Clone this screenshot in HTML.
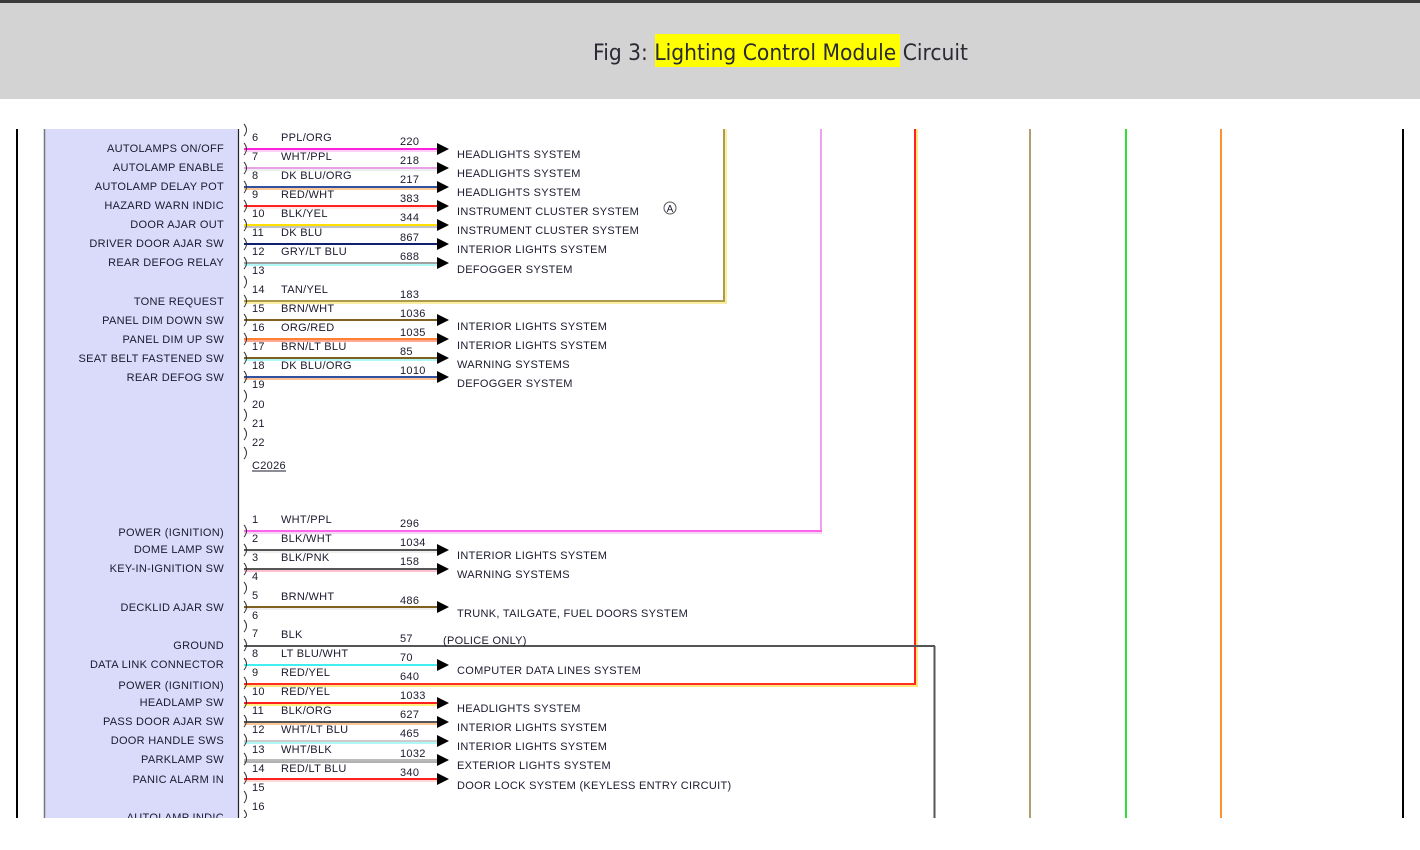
<!DOCTYPE html>
<html><head><meta charset="utf-8"><style>
html,body{margin:0;padding:0;background:#fff;width:1420px;height:850px;overflow:hidden}
svg{display:block}
text{font-family:"Liberation Sans",Arial,sans-serif;font-size:11px;fill:#1a1a2e}
.t{font-size:11px;letter-spacing:0.3px}
</style></head><body>
<svg width="1420" height="850" viewBox="0 0 1420 850" xmlns="http://www.w3.org/2000/svg">
<rect x="0" y="0" width="1420" height="99" fill="#d3d3d3"/>
<rect x="0" y="0" width="1420" height="3" fill="#3a3a3a"/>
<rect x="655" y="34" width="245" height="33" fill="#ffff00"/>
<text x="593" y="60" textLength="375" lengthAdjust="spacingAndGlyphs" style="font-family:'DejaVu Sans','Liberation Sans',sans-serif;font-size:22px;fill:#2a2a35">Fig 3: Lighting Control Module Circuit</text>

<g>
<rect x="44" y="129" width="194" height="689" fill="#dadafa"/>
<line x1="44.5" y1="129" x2="44.5" y2="818" stroke="#777" stroke-width="1.5"/>
<line x1="238.5" y1="129" x2="238.5" y2="818" stroke="#222" stroke-width="1.2"/>
<rect x="16" y="129" width="2" height="689" fill="#000"/>
<rect x="1402" y="129" width="2" height="689" fill="#000"/>

<!-- vertical lines -->
<line x1="724" y1="129" x2="724" y2="301" stroke="#b09a50" stroke-width="2"/>
<line x1="726" y1="129" x2="726" y2="303" stroke="#f0e040" stroke-width="1"/>
<line x1="821" y1="129" x2="821" y2="532" stroke="#f0a0f0" stroke-width="2"/>
<line x1="915" y1="129" x2="915" y2="685" stroke="#ff2020" stroke-width="2"/>
<line x1="917" y1="129" x2="917" y2="686" stroke="#ffd000" stroke-width="1"/>
<line x1="934.5" y1="646" x2="934.5" y2="818" stroke="#555" stroke-width="2"/>
<line x1="1030" y1="129" x2="1030" y2="818" stroke="#b0a070" stroke-width="2"/>
<line x1="1126" y1="129" x2="1126" y2="818" stroke="#30e030" stroke-width="2"/>
<line x1="1221" y1="129" x2="1221" y2="818" stroke="#ff9030" stroke-width="2"/>

<!-- horizontal long wires -->
<line x1="244" y1="301" x2="725" y2="301" stroke="#b09a50" stroke-width="2"/>
<line x1="244" y1="303" x2="727" y2="303" stroke="#f0e040" stroke-width="1"/>
<line x1="244" y1="531" x2="822" y2="531" stroke="#ff66ee" stroke-width="2"/>
<line x1="244" y1="533" x2="822" y2="533" stroke="#e8b0e8" stroke-width="1"/>
<line x1="244" y1="646" x2="935" y2="646" stroke="#555" stroke-width="2"/>
<line x1="244" y1="684" x2="916" y2="684" stroke="#ff3020" stroke-width="2"/>
<line x1="244" y1="686" x2="918" y2="686" stroke="#ffd000" stroke-width="1"/>

<!-- short wires with arrows -->
<g stroke-width="2">
<line x1="244" y1="149" x2="440" y2="149" stroke="#ff22dd"/><line x1="244" y1="151" x2="440" y2="151" stroke="#ffa0f0" stroke-width="1"/>
<line x1="244" y1="168" x2="440" y2="168" stroke="#e8a0e8"/><line x1="244" y1="170" x2="440" y2="170" stroke="#ddd" stroke-width="1"/>
<line x1="244" y1="187" x2="440" y2="187" stroke="#3050a0"/><line x1="244" y1="189" x2="440" y2="189" stroke="#ff9030" stroke-width="1"/>
<line x1="244" y1="206" x2="440" y2="206" stroke="#ff2020"/><line x1="244" y1="208" x2="440" y2="208" stroke="#ffd0d0" stroke-width="1"/>
<line x1="244" y1="225" x2="440" y2="225" stroke="#ffe000"/><line x1="244" y1="227" x2="440" y2="227" stroke="#888" stroke-width="1"/>
<line x1="244" y1="244" x2="440" y2="244" stroke="#102070"/>
<line x1="244" y1="263" x2="440" y2="263" stroke="#a0a0a0"/><line x1="244" y1="265" x2="440" y2="265" stroke="#60f0f0" stroke-width="1"/>
<line x1="244" y1="320" x2="440" y2="320" stroke="#806020"/>
<line x1="244" y1="339" x2="440" y2="339" stroke="#ff8030"/><line x1="244" y1="341" x2="440" y2="341" stroke="#ff5030" stroke-width="1"/>
<line x1="244" y1="358" x2="440" y2="358" stroke="#806020"/><line x1="244" y1="360" x2="440" y2="360" stroke="#60f0f0" stroke-width="1"/>
<line x1="244" y1="377" x2="440" y2="377" stroke="#3050a0"/><line x1="244" y1="379" x2="440" y2="379" stroke="#ff8030" stroke-width="1"/>
<line x1="244" y1="550" x2="440" y2="550" stroke="#555"/><line x1="244" y1="552" x2="440" y2="552" stroke="#ddd" stroke-width="1"/>
<line x1="244" y1="569" x2="440" y2="569" stroke="#555"/><line x1="244" y1="571" x2="440" y2="571" stroke="#ff80a0" stroke-width="1"/>
<line x1="244" y1="607" x2="440" y2="607" stroke="#806020"/><line x1="244" y1="609" x2="440" y2="609" stroke="#ddd" stroke-width="1"/>
<line x1="244" y1="665" x2="440" y2="665" stroke="#40f0f0"/>
<line x1="244" y1="703" x2="440" y2="703" stroke="#ff2020"/><line x1="244" y1="705" x2="440" y2="705" stroke="#ffe000" stroke-width="1"/>
<line x1="244" y1="722" x2="440" y2="722" stroke="#555"/><line x1="244" y1="724" x2="440" y2="724" stroke="#ff9030" stroke-width="1"/>
<line x1="244" y1="741" x2="440" y2="741" stroke="#ccc"/><line x1="244" y1="743" x2="440" y2="743" stroke="#60f0f0" stroke-width="1"/>
<line x1="244" y1="760" x2="440" y2="760" stroke="#bbb"/><line x1="244" y1="762" x2="440" y2="762" stroke="#666" stroke-width="1"/>
<line x1="244" y1="779" x2="440" y2="779" stroke="#ff2020"/><line x1="244" y1="781" x2="440" y2="781" stroke="#ffb0b0" stroke-width="1"/>
</g>
<g fill="#000">
<path d="M437 143L449 149L437 155Z"/><path d="M437 162L449 168L437 174Z"/><path d="M437 181L449 187L437 193Z"/>
<path d="M437 200L449 206L437 212Z"/><path d="M437 219L449 225L437 231Z"/><path d="M437 238L449 244L437 250Z"/>
<path d="M437 257L449 263L437 269Z"/><path d="M437 314L449 320L437 326Z"/><path d="M437 333L449 339L437 345Z"/>
<path d="M437 352L449 358L437 364Z"/><path d="M437 371L449 377L437 383Z"/>
<path d="M437 544L449 550L437 556Z"/><path d="M437 563L449 569L437 575Z"/><path d="M437 601L449 607L437 613Z"/>
<path d="M437 659L449 665L437 671Z"/><path d="M437 697L449 703L437 709Z"/><path d="M437 716L449 722L437 728Z"/>
<path d="M437 735L449 741L437 747Z"/><path d="M437 754L449 760L437 766Z"/><path d="M437 773L449 779L437 785Z"/>
</g>

<!-- brackets -->
<g fill="none" stroke="#333" stroke-width="1">
<path d="M244 124q5 6 0 12"/><path d="M244 143q5 6 0 12"/><path d="M244 162q5 6 0 12"/><path d="M244 181q5 6 0 12"/><path d="M244 200q5 6 0 12"/><path d="M244 219q5 6 0 12"/><path d="M244 238q5 6 0 12"/><path d="M244 257q5 6 0 12"/><path d="M244 276q5 6 0 12"/><path d="M244 295q5 6 0 12"/><path d="M244 314q5 6 0 12"/><path d="M244 333q5 6 0 12"/><path d="M244 352q5 6 0 12"/><path d="M244 371q5 6 0 12"/><path d="M244 390q5 6 0 12"/><path d="M244 409q5 6 0 12"/><path d="M244 428q5 6 0 12"/><path d="M244 447q5 6 0 12"/>
<path d="M244 525q5 6 0 12"/><path d="M244 544q5 6 0 12"/><path d="M244 563q5 6 0 12"/><path d="M244 582q5 6 0 12"/><path d="M244 601q5 6 0 12"/><path d="M244 620q5 6 0 12"/><path d="M244 639q5 6 0 12"/><path d="M244 658q5 6 0 12"/><path d="M244 677q5 6 0 12"/><path d="M244 696q5 6 0 12"/><path d="M244 715q5 6 0 12"/><path d="M244 734q5 6 0 12"/><path d="M244 753q5 6 0 12"/><path d="M244 772q5 6 0 12"/><path d="M244 791q5 6 0 12"/><path d="M244 810q5 6 0 8"/>
</g>

<!-- left labels -->
<g text-anchor="end" class="t">
<text x="224" y="152">AUTOLAMPS ON/OFF</text><text x="224" y="171">AUTOLAMP ENABLE</text><text x="224" y="190">AUTOLAMP DELAY POT</text>
<text x="224" y="209">HAZARD WARN INDIC</text><text x="224" y="228">DOOR AJAR OUT</text><text x="224" y="247">DRIVER DOOR AJAR SW</text>
<text x="224" y="266">REAR DEFOG RELAY</text><text x="224" y="305">TONE REQUEST</text><text x="224" y="324">PANEL DIM DOWN SW</text>
<text x="224" y="343">PANEL DIM UP SW</text><text x="224" y="362">SEAT BELT FASTENED SW</text><text x="224" y="381">REAR DEFOG SW</text>
<text x="224" y="536">POWER (IGNITION)</text><text x="224" y="553">DOME LAMP SW</text><text x="224" y="572">KEY-IN-IGNITION SW</text>
<text x="224" y="611">DECKLID AJAR SW</text><text x="224" y="649">GROUND</text><text x="224" y="668">DATA LINK CONNECTOR</text>
<text x="224" y="689">POWER (IGNITION)</text><text x="224" y="706">HEADLAMP SW</text><text x="224" y="725">PASS DOOR AJAR SW</text>
<text x="224" y="744">DOOR HANDLE SWS</text><text x="224" y="763">PARKLAMP SW</text><text x="224" y="783">PANIC ALARM IN</text>
<text x="224" y="821">AUTOLAMP INDIC</text>
</g>

<!-- pin numbers / colors / circuit numbers -->
<g class="t">
<text x="252" y="141">6</text><text x="281" y="141">PPL/ORG</text><text x="400" y="145">220</text>
<text x="252" y="160">7</text><text x="281" y="160">WHT/PPL</text><text x="400" y="164">218</text>
<text x="252" y="179">8</text><text x="281" y="179">DK BLU/ORG</text><text x="400" y="183">217</text>
<text x="252" y="198">9</text><text x="281" y="198">RED/WHT</text><text x="400" y="202">383</text>
<text x="252" y="217">10</text><text x="281" y="217">BLK/YEL</text><text x="400" y="221">344</text>
<text x="252" y="236">11</text><text x="281" y="236">DK BLU</text><text x="400" y="241">867</text>
<text x="252" y="255">12</text><text x="281" y="255">GRY/LT BLU</text><text x="400" y="260">688</text>
<text x="252" y="274">13</text>
<text x="252" y="293">14</text><text x="281" y="293">TAN/YEL</text><text x="400" y="298">183</text>
<text x="252" y="312">15</text><text x="281" y="312">BRN/WHT</text><text x="400" y="317">1036</text>
<text x="252" y="331">16</text><text x="281" y="331">ORG/RED</text><text x="400" y="336">1035</text>
<text x="252" y="350">17</text><text x="281" y="350">BRN/LT BLU</text><text x="400" y="355">85</text>
<text x="252" y="369">18</text><text x="281" y="369">DK BLU/ORG</text><text x="400" y="374">1010</text>
<text x="252" y="388">19</text><text x="252" y="408">20</text><text x="252" y="427">21</text><text x="252" y="446">22</text>
<text x="252" y="469">C2026</text>
<line x1="252" y1="471" x2="286" y2="471" stroke="#1a1a2e" stroke-width="1"/>

<text x="252" y="523">1</text><text x="281" y="523">WHT/PPL</text><text x="400" y="527">296</text>
<text x="252" y="542">2</text><text x="281" y="542">BLK/WHT</text><text x="400" y="546">1034</text>
<text x="252" y="561">3</text><text x="281" y="561">BLK/PNK</text><text x="400" y="565">158</text>
<text x="252" y="580">4</text>
<text x="252" y="599">5</text><text x="281" y="600">BRN/WHT</text><text x="400" y="604">486</text>
<text x="252" y="619">6</text>
<text x="252" y="637">7</text><text x="281" y="638">BLK</text><text x="400" y="642">57</text>
<text x="252" y="657">8</text><text x="281" y="657">LT BLU/WHT</text><text x="400" y="661">70</text>
<text x="252" y="676">9</text><text x="281" y="676">RED/YEL</text><text x="400" y="680">640</text>
<text x="252" y="695">10</text><text x="281" y="695">RED/YEL</text><text x="400" y="699">1033</text>
<text x="252" y="714">11</text><text x="281" y="714">BLK/ORG</text><text x="400" y="718">627</text>
<text x="252" y="733">12</text><text x="281" y="733">WHT/LT BLU</text><text x="400" y="737">465</text>
<text x="252" y="753">13</text><text x="281" y="753">WHT/BLK</text><text x="400" y="757">1032</text>
<text x="252" y="772">14</text><text x="281" y="772">RED/LT BLU</text><text x="400" y="776">340</text>
<text x="252" y="791">15</text><text x="252" y="810">16</text>

<text x="457" y="158">HEADLIGHTS SYSTEM</text><text x="457" y="177">HEADLIGHTS SYSTEM</text><text x="457" y="196">HEADLIGHTS SYSTEM</text>
<text x="457" y="215">INSTRUMENT CLUSTER SYSTEM</text><text x="457" y="234">INSTRUMENT CLUSTER SYSTEM</text>
<text x="457" y="253">INTERIOR LIGHTS SYSTEM</text><text x="457" y="273">DEFOGGER SYSTEM</text>
<text x="457" y="330">INTERIOR LIGHTS SYSTEM</text><text x="457" y="349">INTERIOR LIGHTS SYSTEM</text>
<text x="457" y="368">WARNING SYSTEMS</text><text x="457" y="387">DEFOGGER SYSTEM</text>
<text x="457" y="559">INTERIOR LIGHTS SYSTEM</text><text x="457" y="578">WARNING SYSTEMS</text>
<text x="457" y="617">TRUNK, TAILGATE, FUEL DOORS SYSTEM</text>
<text x="443" y="644">(POLICE ONLY)</text>
<text x="457" y="674">COMPUTER DATA LINES SYSTEM</text>
<text x="457" y="712">HEADLIGHTS SYSTEM</text><text x="457" y="731">INTERIOR LIGHTS SYSTEM</text>
<text x="457" y="750">INTERIOR LIGHTS SYSTEM</text><text x="457" y="769">EXTERIOR LIGHTS SYSTEM</text>
<text x="457" y="789">DOOR LOCK SYSTEM (KEYLESS ENTRY CIRCUIT)</text>
</g>
<circle cx="670" cy="208" r="6" fill="none" stroke="#555" stroke-width="1"/>
<text x="670" y="212" text-anchor="middle" style="font-size:10px">A</text>
</g>
<rect x="0" y="818" width="1420" height="32" fill="#fff"/>
</svg>
</body></html>
